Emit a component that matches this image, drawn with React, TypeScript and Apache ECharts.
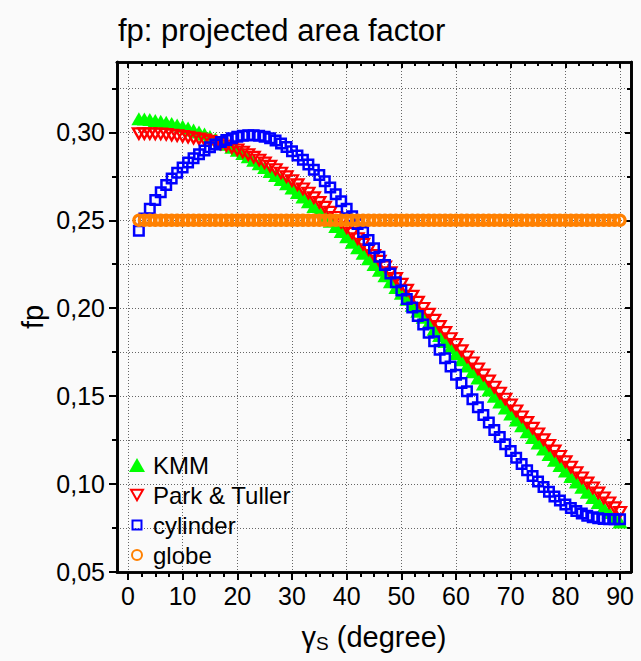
import React, { useEffect, useRef } from 'react';
import * as echarts from 'echarts';

// ---- data ----
const gamma = [
  2, 3, 4, 5, 6, 7, 8, 9, 10, 11, 12, 13, 14, 15, 16, 17, 18, 19, 20, 21,
  22, 23, 24, 25, 26, 27, 28, 29, 30, 31, 32, 33, 34, 35, 36, 37, 38, 39, 40, 41,
  42, 43, 44, 45, 46, 47, 48, 49, 50, 51, 52, 53, 54, 55, 56, 57, 58, 59, 60, 61,
  62, 63, 64, 65, 66, 67, 68, 69, 70, 71, 72, 73, 74, 75, 76, 77, 78, 79, 80, 81,
  82, 83, 84, 85, 86, 87, 88, 89, 90,
];

const kmm = [
  0.3078, 0.3076, 0.3073, 0.3068, 0.3063, 0.3057, 0.3050, 0.3042, 0.3034, 0.3024,
  0.3013, 0.3002, 0.2990, 0.2976, 0.2962, 0.2948, 0.2932, 0.2915, 0.2898, 0.2880,
  0.2861, 0.2841, 0.2821, 0.2800, 0.2778, 0.2755, 0.2732, 0.2708, 0.2683, 0.2658,
  0.2632, 0.2606, 0.2579, 0.2551, 0.2523, 0.2494, 0.2465, 0.2436, 0.2406, 0.2375,
  0.2344, 0.2312, 0.2281, 0.2248, 0.2216, 0.2184, 0.2151, 0.2118, 0.2085, 0.2051,
  0.2017, 0.1983, 0.1948, 0.1914, 0.1880, 0.1845, 0.1811, 0.1776, 0.1742, 0.1707,
  0.1672, 0.1638, 0.1603, 0.1569, 0.1535, 0.1500, 0.1466, 0.1432, 0.1398, 0.1365,
  0.1331, 0.1298, 0.1265, 0.1233, 0.1200, 0.1168, 0.1136, 0.1105, 0.1074, 0.1043,
  0.1012, 0.0982, 0.0953, 0.0924, 0.0895, 0.0867, 0.0839, 0.0811, 0.0785,
];

const parkTuller = [
  0.2993, 0.2993, 0.2993, 0.2992, 0.2991, 0.2989, 0.2985, 0.2981, 0.2977, 0.2973,
  0.2968, 0.2963, 0.2957, 0.2950, 0.2942, 0.2934, 0.2924, 0.2913, 0.2901, 0.2888,
  0.2874, 0.2859, 0.2843, 0.2826, 0.2808, 0.2789, 0.2769, 0.2748, 0.2726, 0.2703,
  0.2679, 0.2655, 0.2629, 0.2602, 0.2575, 0.2546, 0.2517, 0.2488, 0.2458, 0.2427,
  0.2396, 0.2364, 0.2333, 0.2300, 0.2268, 0.2236, 0.2203, 0.2170, 0.2137, 0.2103,
  0.2069, 0.2035, 0.2000, 0.1966, 0.1932, 0.1897, 0.1863, 0.1828, 0.1794, 0.1759,
  0.1724, 0.1690, 0.1655, 0.1621, 0.1587, 0.1552, 0.1518, 0.1484, 0.1450, 0.1417,
  0.1383, 0.1351, 0.1318, 0.1286, 0.1253, 0.1221, 0.1189, 0.1158, 0.1128, 0.1097,
  0.1066, 0.1036, 0.1007, 0.0979, 0.0950, 0.0922, 0.0894, 0.0866, 0.0840,
];

const cylinder = [
  0.2440, 0.2510, 0.2565, 0.2615, 0.2660, 0.2700, 0.2737, 0.2770, 0.2800, 0.2828,
  0.2853, 0.2876, 0.2897, 0.2915, 0.2931, 0.2945, 0.2957, 0.2967, 0.2975, 0.2981,
  0.2984, 0.2984, 0.2981, 0.2975, 0.2966, 0.2953, 0.2937, 0.2916, 0.2892, 0.2869,
  0.2844, 0.2817, 0.2788, 0.2757, 0.2722, 0.2686, 0.2648, 0.2608, 0.2566, 0.2523,
  0.2479, 0.2434, 0.2388, 0.2341, 0.2293, 0.2245, 0.2197, 0.2148, 0.2100, 0.2052,
  0.2004, 0.1956, 0.1908, 0.1860, 0.1812, 0.1764, 0.1716, 0.1668, 0.1621, 0.1574,
  0.1528, 0.1482, 0.1437, 0.1393, 0.1350, 0.1308, 0.1267, 0.1227, 0.1188, 0.1150,
  0.1114, 0.1079, 0.1046, 0.1014, 0.0984, 0.0956, 0.0930, 0.0906, 0.0884, 0.0864,
  0.0847, 0.0832, 0.0820, 0.0811, 0.0805, 0.0802, 0.0800, 0.0800, 0.0800,
];

const globe = [
  0.25, 0.25, 0.25, 0.25, 0.25, 0.25, 0.25, 0.25, 0.25, 0.25,
  0.25, 0.25, 0.25, 0.25, 0.25, 0.25, 0.25, 0.25, 0.25, 0.25,
  0.25, 0.25, 0.25, 0.25, 0.25, 0.25, 0.25, 0.25, 0.25, 0.25,
  0.25, 0.25, 0.25, 0.25, 0.25, 0.25, 0.25, 0.25, 0.25, 0.25,
  0.25, 0.25, 0.25, 0.25, 0.25, 0.25, 0.25, 0.25, 0.25, 0.25,
  0.25, 0.25, 0.25, 0.25, 0.25, 0.25, 0.25, 0.25, 0.25, 0.25,
  0.25, 0.25, 0.25, 0.25, 0.25, 0.25, 0.25, 0.25, 0.25, 0.25,
  0.25, 0.25, 0.25, 0.25, 0.25, 0.25, 0.25, 0.25, 0.25, 0.25,
  0.25, 0.25, 0.25, 0.25, 0.25, 0.25, 0.25, 0.25, 0.25,
];

const seriesNames = ['KMM', 'Park & Tuller', 'cylinder', 'globe'];
const xMajorTicks = [0, 10, 20, 30, 40, 50, 60, 70, 80, 90];
const xMinorTicks = [
  2.5, 5, 7.5, 12.5, 15, 17.5, 22.5, 25, 27.5, 32.5, 35, 37.5, 42.5, 45, 47.5,
  52.5, 55, 57.5, 62.5, 65, 67.5, 72.5, 75, 77.5, 82.5, 85, 87.5,
];
const yMajorTicks = [0.05, 0.1, 0.15, 0.2, 0.25, 0.3];
const yMinorTicks = [0.075, 0.125, 0.175, 0.225, 0.275, 0.325];

const X_MIN = -2;
const X_MAX = 92;
const Y_MIN = 0.05;
const Y_MAX = 0.34;

const FONT = '"Liberation Sans", Arial, sans-serif';
const BG = '#fafafa';
const NONE = 'rgba(0,0,0,0)';
const AXIS_COLOR = '#000';
const DOTTED = { color: '#666', width: 1, type: [1, 2] as number[] };

// legend icons: an invisible bounding box (0,0)-(16,14) keeps each icon at its own size
const ICON_KMM = 'path://M8,0L16,14L0,14Z';
const ICON_PARK = 'path://M0,0M16,14M2,1.8L14,1.8L8,12.2Z';
const ICON_CYL = 'path://M0,0M16,14M3.5,2.5L12.5,2.5L12.5,11.5L3.5,11.5Z';
const ICON_GLOBE = 'path://M0,0M16,14M3,7A5,5,0,1,1,13,7A5,5,0,1,1,3,7Z';

function pairs(values: number[]) {
  return gamma.map((g, i) => [g, values[i]]);
}

function xAxisDef(position: 'top' | 'bottom', ticks: number[], len: number, inside: boolean, extra: any = {}) {
  return {
    type: 'value',
    position,
    min: X_MIN,
    max: X_MAX,
    axisLine: { show: true, onZero: false, lineStyle: { color: AXIS_COLOR, width: 2.7 } },
    axisTick: { show: true, inside, length: len, customValues: ticks, lineStyle: { color: AXIS_COLOR, width: 2 } },
    axisLabel: { show: false },
    splitLine: { show: false },
    ...extra,
  };
}

function yAxisDef(position: 'left' | 'right', ticks: number[], len: number, inside: boolean, extra: any = {}) {
  return {
    type: 'value',
    position,
    min: Y_MIN,
    max: Y_MAX,
    axisLine: { show: true, onZero: false, lineStyle: { color: AXIS_COLOR, width: 2.7 } },
    axisTick: { show: true, inside, length: len, customValues: ticks, lineStyle: { color: AXIS_COLOR, width: 2 } },
    axisLabel: { show: false },
    splitLine: { show: false },
    ...extra,
  };
}

export default function App() {
  const ref = useRef<HTMLDivElement>(null);

  useEffect(() => {
    if (!ref.current) return;
    const chart = echarts.init(ref.current, undefined, { renderer: 'svg' });

    const option: any = {
      animation: false,
      backgroundColor: BG,
      textStyle: { fontFamily: FONT },
      title: {
        text: 'fp: projected area factor',
        left: 118,
        top: 15,
        padding: 0,
        textStyle: { fontSize: 31, fontWeight: 'normal', color: '#000', fontFamily: FONT },
      },
      legend: {
        orient: 'vertical',
        left: 128,
        top: 453,
        padding: 0,
        itemWidth: 22,
        itemHeight: 14,
        itemGap: 6,
        selectedMode: false,
        symbolKeepAspect: true,
        data: [
          { name: seriesNames[0], icon: ICON_KMM },
          { name: seriesNames[1], icon: ICON_PARK },
          { name: seriesNames[2], icon: ICON_CYL },
          { name: seriesNames[3], icon: ICON_GLOBE },
        ],
        textStyle: { fontSize: 24, color: '#000', fontFamily: FONT },
      },
      grid: {
        left: 117,
        right: 10,
        top: 62,
        bottom: 89,
        containLabel: false,
        outerBoundsMode: 'none',
      },
      xAxis: [
        xAxisDef('bottom', xMajorTicks, 8, false, {
          axisLabel: {
            show: true,
            customValues: xMajorTicks,
            margin: 11,
            fontSize: 25,
            color: '#000',
            fontFamily: FONT,
          },
          splitLine: { show: true, lineStyle: DOTTED },
          name: '{g|γ}{s|S} (degree)',
          nameLocation: 'middle',
          nameGap: 50,
          nameMoveOverlap: false,
          nameTextStyle: {
            fontSize: 29,
            color: '#000',
            fontFamily: FONT,
            rich: {
              g: { fontSize: 29, color: '#000', fontFamily: FONT },
              s: { fontSize: 19, lineHeight: 19, padding: [14, 0, 0, 0], color: '#000', fontFamily: FONT },
            },
          },
        }),
        xAxisDef('bottom', xMinorTicks, 5, false),
        xAxisDef('top', xMajorTicks, 6, true),
        xAxisDef('top', xMinorTicks, 4, true),
      ],
      yAxis: [
        yAxisDef('left', yMajorTicks, 8, false, {
          axisLabel: {
            show: true,
            customValues: yMajorTicks,
            margin: 12,
            fontSize: 25,
            color: '#000',
            fontFamily: FONT,
            formatter: (v: number) => v.toFixed(2).replace('.', ','),
          },
          splitLine: { show: true, lineStyle: DOTTED },
          name: 'fp',
          nameLocation: 'middle',
          nameGap: 70,
          nameMoveOverlap: false,
          nameTextStyle: { fontSize: 29, color: '#000', fontFamily: FONT },
        }),
        yAxisDef('left', yMinorTicks, 5, false, {
          splitLine: { show: true, lineStyle: DOTTED },
        }),
        yAxisDef('right', yMajorTicks, 6, true),
        yAxisDef('right', yMinorTicks, 4, true),
      ],
      series: [
        {
          name: seriesNames[0],
          type: 'scatter',
          xAxisIndex: 0,
          yAxisIndex: 0,
          data: pairs(kmm),
          symbol: 'triangle',
          symbolSize: [15, 13],
          itemStyle: { color: '#00ff00', opacity: 1 },
          emphasis: { disabled: true },
        },
        {
          name: seriesNames[1],
          type: 'scatter',
          xAxisIndex: 0,
          yAxisIndex: 0,
          data: pairs(parkTuller),
          symbol: 'path://M0,0L10,0L5,9Z',
          symbolSize: [12, 10.5],
          itemStyle: { color: NONE, borderColor: '#ff0000', borderWidth: 2.3, opacity: 1 },
          emphasis: { disabled: true },
        },
        {
          name: seriesNames[2],
          type: 'scatter',
          xAxisIndex: 0,
          yAxisIndex: 0,
          data: pairs(cylinder),
          symbol: 'rect',
          symbolSize: 9.5,
          itemStyle: { color: NONE, borderColor: '#0000ff', borderWidth: 2.5, opacity: 1 },
          emphasis: { disabled: true },
        },
        {
          name: seriesNames[3],
          type: 'scatter',
          xAxisIndex: 0,
          yAxisIndex: 0,
          data: pairs(globe),
          symbol: 'circle',
          symbolSize: 10,
          itemStyle: { color: NONE, borderColor: '#ff8000', borderWidth: 3.2, opacity: 1 },
          emphasis: { disabled: true },
        },
      ],
    };

    chart.setOption(option);
    return () => {
      chart.dispose();
    };
  }, []);

  return (
    <div
      ref={ref}
      style={{ position: 'fixed', left: 0, top: 0, width: 641, height: 661, background: BG }}
    />
  );
}
